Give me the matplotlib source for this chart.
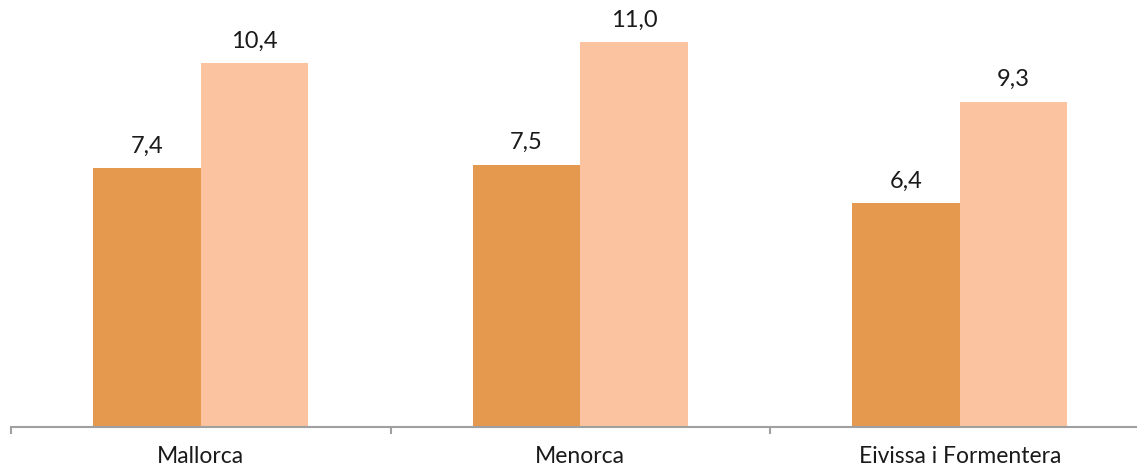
import matplotlib
matplotlib.use("Agg")
import matplotlib.pyplot as plt
import numpy as np

categories = ["Mallorca", "Menorca", "Eivissa i Formentera"]
series_a = [7.4, 7.5, 6.4]
series_b = [10.4, 11.0, 9.3]
labels_a = ["7,4", "7,5", "6,4"]
labels_b = ["10,4", "11,0", "9,3"]

plt.rcParams['font.family'] = ['Lato', 'DejaVu Sans']

W, H = 1137, 468
fig = plt.figure(figsize=(W/100, H/100), dpi=100)
left = 11 / W
bottom = (H - 427) / H
ax = fig.add_axes([left, bottom, 1 - left, 1 - bottom])

x = np.arange(len(categories))
bw = 0.283
ax.bar(x - bw/2, series_a, width=bw, color="#E4994F")
ax.bar(x + bw/2, series_b, width=bw, color="#FBC3A0")

for xi, v, t in zip(x, series_a, labels_a):
    ax.text(xi - bw/2, v + 0.33, t, ha="center", va="bottom", fontsize=17, color="#1a1a1a")
for xi, v, t in zip(x, series_b, labels_b):
    ax.text(xi + bw/2, v + 0.33, t, ha="center", va="bottom", fontsize=17, color="#1a1a1a")

for s in ["top", "right", "left"]:
    ax.spines[s].set_visible(False)
ax.spines["bottom"].set_color("#A0A0A0")
ax.spines["bottom"].set_linewidth(1.5)
ax.set_yticks([])
ax.set_xticks([-0.5, 0.5, 1.5])
ax.set_xticklabels([])
ax.tick_params(axis="x", length=5, width=1.5, color="#A0A0A0")
ax.set_xticks(x, minor=True)
ax.set_xticklabels(categories, minor=True, fontsize=16.5, color="#1a1a1a")
ax.tick_params(axis="x", which="minor", length=0, pad=14)

ax.set_xlim(-0.5, -0.5 + (W - 11) / 379.5)
ax.set_ylim(0, 427 / 35.0)

fig.savefig("out.png", dpi=100)
